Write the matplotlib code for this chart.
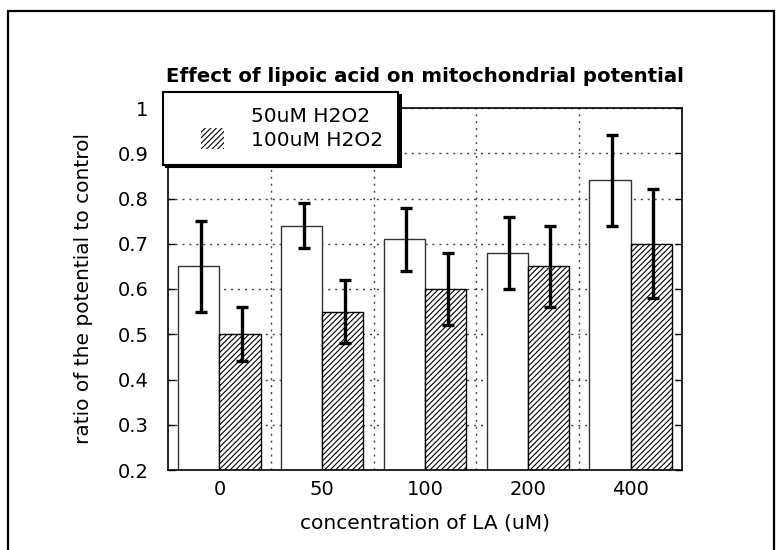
import matplotlib
matplotlib.use("Agg")
import matplotlib.pyplot as plt
import numpy as np
from matplotlib.patches import Patch, Rectangle
from matplotlib.legend_handler import HandlerPatch

plt.rcParams['font.family'] = ['DejaVu Sans']
plt.rcParams['hatch.linewidth'] = 0.8
plt.rcParams['hatch.color'] = 'black'

categories = ['0', '50', '100', '200', '400']
series_names = ['50uM H2O2', '100uM H2O2']
vals_50 = [0.65, 0.74, 0.71, 0.68, 0.84]
err_50 = [0.10, 0.05, 0.07, 0.08, 0.10]
vals_100 = [0.50, 0.55, 0.60, 0.65, 0.70]
err_100 = [0.06, 0.07, 0.08, 0.09, 0.12]
yticks = [0.2, 0.3, 0.4, 0.5, 0.6, 0.7, 0.8, 0.9, 1.0]
ytick_labels = ['0.2', '0.3', '0.4', '0.5', '0.6', '0.7', '0.8', '0.9', '1']

fig = plt.figure(figsize=(7.76, 5.5), dpi=100)
ax = fig.add_axes([168/776, 1-470/550, (682-168)/776, (470-108)/550])

x = np.arange(len(categories))
w = 0.4
ax.bar(x - w/2, vals_50, w, color='white', edgecolor='#333333', linewidth=1, zorder=2)
ax.bar(x + w/2, vals_100, w, color='white', edgecolor='black', hatch='//////', linewidth=1, zorder=2)
ekw = dict(fmt='none', ecolor='black', elinewidth=2.4, capsize=4.5, capthick=2.4, zorder=3)
ax.errorbar(x - w/2 + 0.02, vals_50, yerr=err_50, **ekw)
ax.errorbar(x + w/2 + 0.02, vals_100, yerr=err_100, **ekw)

ax.set_xlim(-0.5, len(categories) - 0.5)
ax.set_ylim(0.2, 1.0)
ax.set_yticks(yticks)
ax.set_yticklabels(ytick_labels)
ax.set_xticks(x)
ax.set_xticklabels(categories)
ax.set_xticks(np.arange(0.5, len(categories) - 0.5, 1), minor=True)
ax.tick_params(axis='x', which='both', length=0, labelsize=14, pad=7)
ax.tick_params(axis='y', direction='in', right=True, length=5, width=1, labelsize=14, pad=14)
ax.set_axisbelow(True)
ax.grid(axis='y', which='major', linestyle=(0, (1.5, 3.5)), color='#444444', linewidth=1)
ax.grid(axis='x', which='minor', linestyle=(0, (1.5, 3.5)), color='#444444', linewidth=1)
for s in ax.spines.values():
    s.set_linewidth(1.2)

ax.set_title('Effect of lipoic acid on mitochondrial potential', fontsize=14.2,
             fontweight='bold', pad=19)
ax.set_xlabel('concentration of LA (uM)', fontsize=14.5)
ax.set_ylabel('ratio of the potential to control', fontsize=14.5)
ax.xaxis.set_label_coords(0.5, -0.12)
ax.yaxis.set_label_coords(-0.145, 0.5)


def narrow_patch(legend, orig_handle, xdescent, ydescent, width, height, fontsize):
    pw = 23 / 100 * 72
    ph = height * 1.5
    return Rectangle((width - pw - xdescent, -ydescent - (ph - height) / 2), pw, ph)


handles = [Patch(facecolor='white', edgecolor='white', linewidth=0),
           Patch(facecolor='white', edgecolor='black', hatch='//////', linewidth=0)]
leg = ax.legend(handles, series_names, loc='upper left',
                bbox_to_anchor=(163/776, 1-92/550), bbox_transform=fig.transFigure,
                borderaxespad=0, fontsize=14.5, frameon=True, fancybox=False,
                shadow={'color': 'black', 'alpha': 1}, handlelength=2.3,
                handletextpad=1.3, borderpad=0.75, labelspacing=0.22,
                handler_map={Patch: HandlerPatch(patch_func=narrow_patch)})
leg.get_frame().set_edgecolor('black')
leg.get_frame().set_linewidth(1.5)
leg.get_frame().set_alpha(1)
leg.set_zorder(5)

fig.patches.append(Rectangle((8/776, -0.1), (774-8)/776, 1.1 - 11/550,
                             transform=fig.transFigure, fill=False,
                             edgecolor='black', linewidth=1.6))

fig.savefig('out.png', dpi=100)
